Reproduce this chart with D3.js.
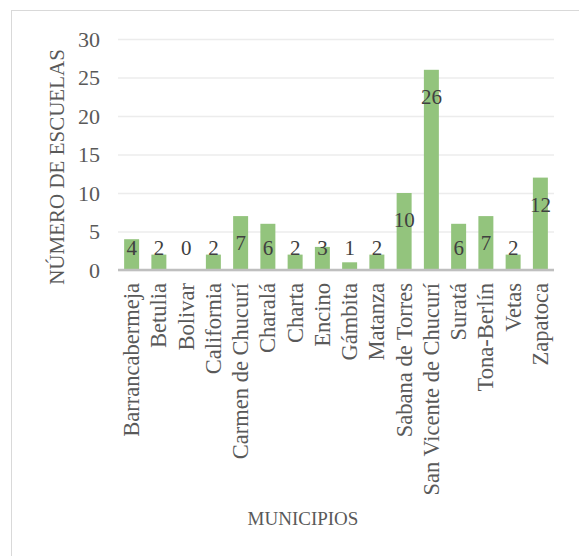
<!DOCTYPE html>
<html>
<head>
<meta charset="utf-8">
<script src="https://cdn.jsdelivr.net/npm/d3@7/dist/d3.min.js"></script>
<style>
  html, body { margin: 0; padding: 0; background: #ffffff; }
  svg { display: block; }
</style>
</head>
<body>
<svg id="chart" width="579" height="556"></svg>
<script>
// Schools per municipality
const municipios = ["Barrancabermeja", "Betulia", "Bolivar", "California", "Carmen de Chucurí",
  "Charalá", "Charta", "Encino", "Gámbita", "Matanza", "Sabana de Torres",
  "San Vicente de Chucurí", "Suratá", "Tona-Berlín", "Vetas", "Zapatoca"];
const escuelas = [4, 2, 0, 2, 7, 6, 2, 3, 1, 2, 10, 26, 6, 7, 2, 12];
const yTicks = [0, 5, 10, 15, 20, 25, 30];

const FONT = '"Liberation Serif", "Times New Roman", serif';
const svg = d3.select("#chart");
const plot = { left: 118, right: 554, top: 39, bottom: 270 };

// outer chart frame
svg.append("rect")
  .attr("x", 11.5).attr("y", 10.5)
  .attr("width", 700).attr("height", 700)
  .attr("fill", "none").attr("stroke", "#d9d9d9").attr("stroke-width", 1);

const x = d3.scaleBand().domain(municipios)
  .range([plot.left, plot.right]).paddingInner(0.45).paddingOuter(0.225);
const y = d3.scaleLinear().domain([0, 30]).range([plot.bottom, plot.top]);

// horizontal gridlines + tick labels
const yAxis = d3.axisLeft(y).tickValues(yTicks)
  .tickSize(-(plot.right - plot.left)).tickPadding(18);
const gy = svg.append("g").attr("transform", `translate(${plot.left},0)`).call(yAxis);
gy.select(".domain").remove();
gy.selectAll(".tick line").attr("stroke", "#ececec").attr("stroke-width", 1.5);
gy.selectAll(".tick text")
  .attr("fill", "#595959")
  .style("font-family", FONT).style("font-size", "22px");

// bars
svg.append("g").selectAll("rect").data(escuelas).join("rect")
  .attr("x", (d, i) => x(municipios[i]))
  .attr("y", d => y(d))
  .attr("width", x.bandwidth())
  .attr("height", d => y(0) - y(d))
  .attr("fill", "#93c47d");

// category axis
const xAxis = d3.axisBottom(x).tickSize(0).tickPadding(0);
const gx = svg.append("g").attr("transform", `translate(0,${plot.bottom})`).call(xAxis);
gx.select(".domain").attr("stroke", "#bfbfbf").attr("stroke-width", 2.5)
  .attr("d", `M${plot.left},0H${plot.right}`);
gx.selectAll(".tick text")
  .attr("fill", "#595959")
  .style("font-family", FONT).style("font-size", "22.5px")
  .attr("text-anchor", "end")
  .attr("transform", "rotate(-90)")
  .attr("x", -13).attr("y", 0).attr("dy", "0.33em");

// value labels
svg.append("g").selectAll("text").data(escuelas).join("text")
  .attr("x", (d, i) => x(municipios[i]) + x.bandwidth() / 2)
  .attr("y", d => Math.min(y(d) + 27, y(0) - 22))
  .attr("dy", "0.35em")
  .attr("text-anchor", "middle")
  .attr("fill", "#404040")
  .style("font-family", FONT).style("font-size", "21px")
  .text(d => d);

// axis titles
svg.append("text")
  .attr("transform", `translate(57,167) rotate(-90)`)
  .attr("text-anchor", "middle").attr("dy", "0.35em")
  .attr("fill", "#595959")
  .style("font-family", FONT).style("font-size", "21px")
  .text("NÚMERO DE ESCUELAS");

svg.append("text")
  .attr("x", 303).attr("y", 525)
  .attr("text-anchor", "middle")
  .attr("fill", "#595959")
  .style("font-family", FONT).style("font-size", "19px")
  .text("MUNICIPIOS");
</script>
</body>
</html>
